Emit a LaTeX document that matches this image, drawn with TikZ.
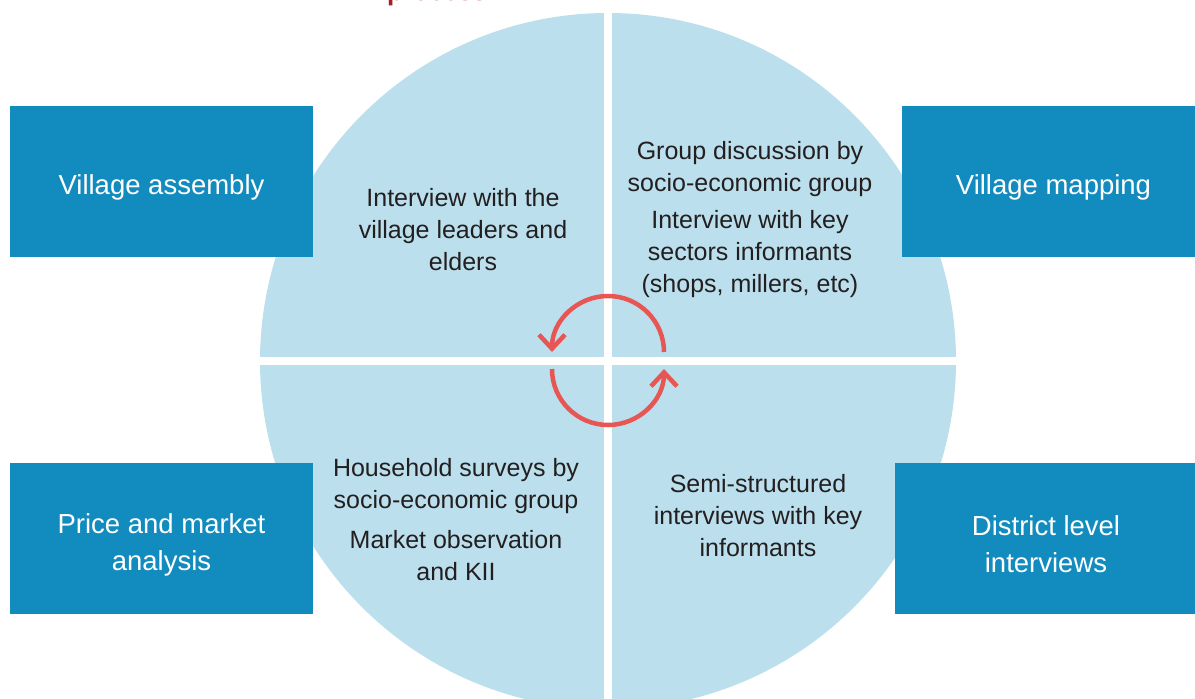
\documentclass[tikz,border=0pt]{standalone}
\usepackage{fontspec}
\setmainfont{Liberation Sans}
\usetikzlibrary{arrows.meta}
\definecolor{boxblue}{RGB}{18,139,190}
\definecolor{ringblue}{RGB}{187,223,236}
\definecolor{cyclered}{RGB}{232,86,84}
\definecolor{titlered}{RGB}{163,31,36}
\definecolor{inktext}{RGB}{35,31,32}

\begin{document}
\begin{tikzpicture}[x=1pt,y=1pt]
\tikzset{method/.style={fill=boxblue,minimum width=303pt,minimum height=151pt,inner sep=0pt}}
\tikzset{methodtext/.style={text=white,align=center,yshift=-6pt,font=\fontsize{27.5}{37}\selectfont}}
\tikzset{stage/.style={text=inktext,align=center,font=\fontsize{25}{32}\selectfont}}
\tikzset{cycle/.style={cyclered,line width=4.5pt,-{Straight Barb[length=14pt,width=26pt]}}}

\useasboundingbox (0,0) rectangle (1195,-699);
\clip (0,0) rectangle (1195,-699);

\node[titlered,inner sep=0pt,anchor=base west,font=\fontsize{26}{30}\selectfont\bfseries] (title) at (387,-0.5) {process};

% ring, cut in four quarters
\fill[ringblue] (608,-361) circle (348);
\fill[white] (604,0) rectangle (612,-699);
\fill[white] (0,-357) rectangle (1195,-365);

\node[method] (assembly) at (161.5,-181.5) {};
\node[method] (mapping) at (1053.5,-181.5) {};
\node[method] (market) at (161.5,-538.5) {};
\node[method] (district) at (1046,-538.5) {};
\node[methodtext] (assemblytext) at (assembly) {Village assembly};
\node[methodtext] (mappingtext) at (mapping) {Village mapping};
\node[methodtext] (markettext) at (market) {Price and market\\analysis};
\node[methodtext] (districttext) at (district) {District level\\interviews};

\node[stage] (leaders) at (463,-230) {Interview with the\\village leaders and\\elders};
\node[stage] (groups) at (750,-220) {Group discussion by\\socio-economic group\\[5pt]Interview with key\\sectors informants\\(shops, millers, etc)};
\node[stage] (surveys) at (456,-520) {Household surveys by\\socio-economic group\\[8pt]Market observation\\and KII};
\node[stage] (semi) at (758,-516) {Semi-structured\\interviews with key\\informants};

% the two arrows of the cycle
\coordinate (upperstart) at (664,-352);
\coordinate (lowerstart) at (552,-369);
\draw[cycle] (upperstart) arc[start angle=0,end angle=180,radius=56];
\draw[cycle] (lowerstart) arc[start angle=180,end angle=360,radius=56];

\end{tikzpicture}
\end{document}
